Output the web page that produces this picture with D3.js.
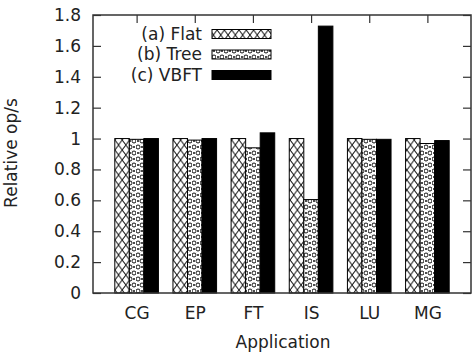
<!DOCTYPE html>
<html>
<head>
<meta charset="utf-8">
<script src="https://cdn.jsdelivr.net/npm/d3@7"></script>
<style>
  body { margin: 0; background: #fff; }
  svg text { font-family: "DejaVu Sans", sans-serif; font-size: 17px; fill: #222; }
  .axis line { stroke: #333; stroke-width: 1.2px; }
  .axis path { display: none; }
</style>
</head>
<body>
<svg id="chart" width="475" height="362"></svg>
<script>
// data
const apps = ['CG', 'EP', 'FT', 'IS', 'LU', 'MG'];
const flat = [1.0, 1.0, 1.0, 1.0, 1.0, 1.0];
const tree = [0.995, 0.99, 0.94, 0.605, 0.995, 0.968];
const vbft = [1.0, 1.0, 1.037, 1.728, 0.995, 0.987];
const seriesNames = ['(a) Flat', '(b) Tree', '(c) VBFT'];
const yTicks = [0, 0.2, 0.4, 0.6, 0.8, 1, 1.2, 1.4, 1.6, 1.8];

const series = [flat, tree, vbft];
const fills = ['url(#pFlat)', 'url(#pTree)', '#000'];

const frame = {left: 93, right: 471, top: 15, bottom: 293};
const svg = d3.select('#chart');

// fill patterns
const defs = svg.append('defs');
const pf = defs.append('pattern').attr('id', 'pFlat').attr('patternUnits', 'userSpaceOnUse')
  .attr('width', 7.3).attr('height', 10).attr('x', frame.left);
pf.append('rect').attr('width', 7.3).attr('height', 10).attr('fill', '#fff');
pf.append('path').attr('d', 'M0,0L7.3,10M7.3,0L0,10')
  .attr('stroke', '#111').attr('stroke-width', 1);

const pt = defs.append('pattern').attr('id', 'pTree').attr('patternUnits', 'userSpaceOnUse')
  .attr('width', 8).attr('height', 12);
pt.append('rect').attr('width', 8).attr('height', 12).attr('fill', '#fff');
[[2, 3], [6, 9]].forEach(([cx, cy]) => pt.append('circle').attr('cx', cx).attr('cy', cy).attr('r', 2)
  .attr('fill', 'none').attr('stroke', '#111').attr('stroke-width', 1));
[[6, 3], [2, 9]].forEach(([cx, cy]) => pt.append('circle').attr('cx', cx).attr('cy', cy).attr('r', 1)
  .attr('fill', '#111'));
pt.append('path').attr('d', 'M4,0L4,12').attr('stroke', '#bbb').attr('stroke-width', 0.6)
  .attr('stroke-dasharray', '1,2');

const x = d3.scaleLinear().domain([-0.75, apps.length - 0.25]).range([frame.left, frame.right]);
const y = d3.scaleLinear().domain([0, 1.8]).range([frame.bottom, frame.top]);
const boxW = 0.25;

const fmt = v => String(+v.toFixed(1));

// axes, ticks pointing inward
svg.append('g').attr('class', 'axis').attr('transform', `translate(${frame.left},0)`)
  .call(d3.axisLeft(y).tickValues(yTicks).tickSize(-8).tickPadding(12).tickFormat(fmt));
svg.append('g').attr('class', 'axis').attr('transform', `translate(${frame.right},0)`)
  .call(d3.axisRight(y).tickValues(yTicks).tickSize(-8).tickFormat(''));
svg.append('g').attr('class', 'axis').attr('transform', `translate(0,${frame.bottom})`)
  .call(d3.axisBottom(x).tickValues(d3.range(apps.length)).tickSize(-8).tickPadding(14)
    .tickFormat(i => apps[i]));
svg.append('g').attr('class', 'axis').attr('transform', `translate(0,${frame.top})`)
  .call(d3.axisTop(x).tickValues(d3.range(apps.length)).tickSize(-8).tickFormat(''));
svg.selectAll('.axis text').style('font-family', '"DejaVu Sans", sans-serif').style('font-size', '17px').attr('fill', '#222');

// bars
series.forEach((vals, s) => {
  svg.append('g').selectAll('rect').data(vals).enter().append('rect')
    .attr('x', (d, i) => x(i + (s - 1.5) * boxW))
    .attr('width', x(boxW) - x(0))
    .attr('y', d => y(d))
    .attr('height', d => y(0) - y(d))
    .attr('fill', fills[s])
    .attr('stroke', '#000').attr('stroke-width', 1);
  if (s === 2) {
    svg.select('g:last-child').selectAll('rect').clone()
      .attr('fill', 'none').attr('stroke', '#888').attr('stroke-dasharray', '1,2');
  }
});

// border
svg.append('rect').attr('x', frame.left).attr('y', frame.top)
  .attr('width', frame.right - frame.left).attr('height', frame.bottom - frame.top)
  .attr('fill', 'none').attr('stroke', '#333').attr('stroke-width', 1.5);

// legend
const legend = svg.append('g');
seriesNames.forEach((name, s) => {
  const cy = 34 + s * 20.5;
  legend.append('text').attr('x', 202).attr('y', cy).attr('dy', '0.35em')
    .attr('text-anchor', 'end').text(name);
  legend.append('rect').attr('x', 212).attr('y', cy - 4.5).attr('width', 59).attr('height', 9)
    .attr('fill', fills[s]).attr('stroke', '#000').attr('stroke-width', 1);
});

// axis titles
svg.append('text').attr('x', 283).attr('y', 342).attr('dy', '0.35em')
  .attr('text-anchor', 'middle').text('Application');
svg.append('text').attr('transform', 'translate(11,153) rotate(-90)').attr('dy', '0.35em')
  .attr('text-anchor', 'middle').text('Relative op/s');
</script>
</body>
</html>
